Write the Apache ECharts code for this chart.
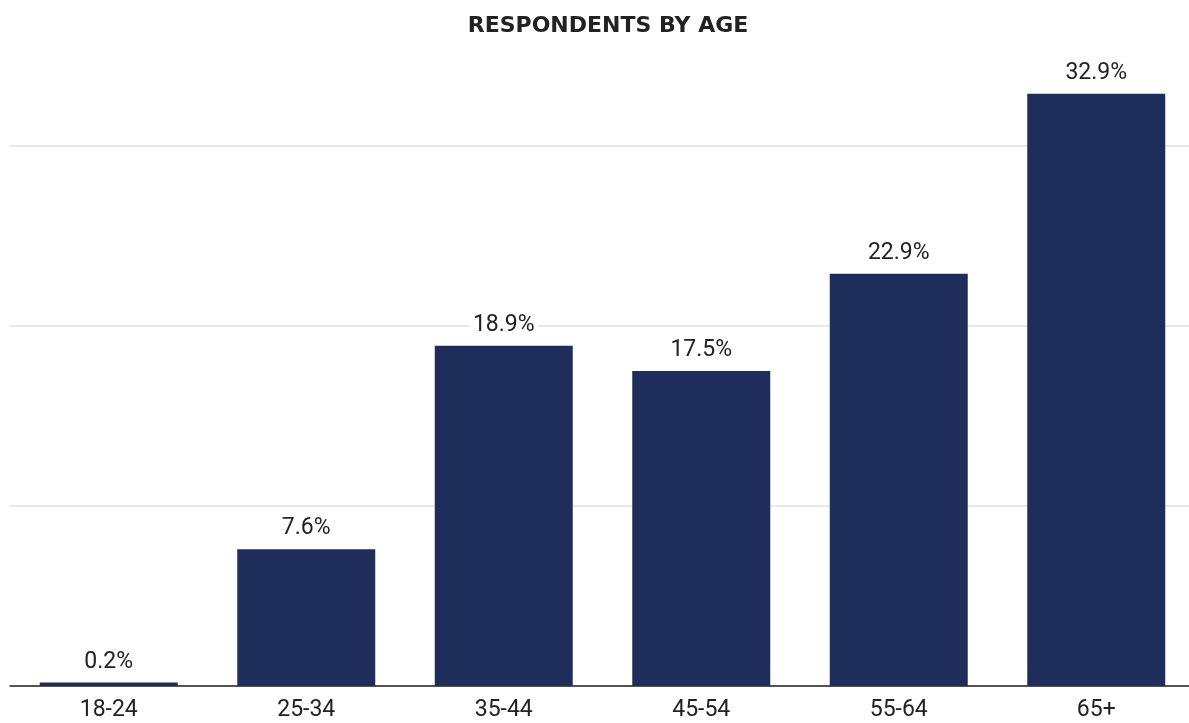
<!DOCTYPE html>
<html>
<head>
<meta charset="utf-8">
<script src="https://cdn.jsdelivr.net/npm/echarts@6/dist/echarts.min.js"></script>
<style>
  html, body { margin: 0; padding: 0; background: #ffffff; }
  #chart { width: 1189px; height: 723px; }
</style>
</head>
<body>
<div id="chart"></div>
<script>
// Age brackets and share of respondents (%)
const ageGroups = ['18-24', '25-34', '35-44', '45-54', '55-64', '65+'];
const shares = [0.2, 7.6, 18.9, 17.5, 22.9, 32.9];
const titleText = 'RESPONDENTS BY AGE';

const chart = echarts.init(document.getElementById('chart'));
chart.setOption({
  backgroundColor: '#ffffff',
  animation: false,
  title: {
    text: titleText,
    left: 603,
    textAlign: 'center',
    top: 10,
    textStyle: {
      fontFamily: 'DejaVu Sans',
      fontWeight: 'bold',
      fontSize: 22,
      color: '#222222'
    }
  },
  grid: { left: 10, width: 1185, top: 56, bottom: 37, outerBoundsMode: 'none', containLabel: false },
  xAxis: {
    type: 'category',
    data: ageGroups,
    axisLine: { lineStyle: { color: '#222222', width: 1.5 } },
    axisTick: { show: false },
    axisLabel: {
      color: '#222222',
      fontFamily: 'Roboto',
      fontSize: 23,
      margin: 13
    }
  },
  yAxis: {
    type: 'value',
    min: 0,
    max: 35,
    interval: 10,
    axisLine: { show: false },
    axisTick: { show: false },
    axisLabel: { show: false },
    splitLine: { showMaxLine: false, lineStyle: { color: '#e2e2e2', width: 1.5 } }
  },
  series: [{
    type: 'bar',
    data: shares,
    barWidth: 138,
    itemStyle: { color: '#1f2d5b' },
    label: {
      show: true,
      position: 'top',
      distance: 9,
      formatter: p => p.value.toFixed(1) + '%',
      color: '#222222',
      fontFamily: 'Roboto',
      fontSize: 23,
      backgroundColor: '#ffffff',
      padding: [0, 4]
    }
  }]
});
</script>
</body>
</html>
